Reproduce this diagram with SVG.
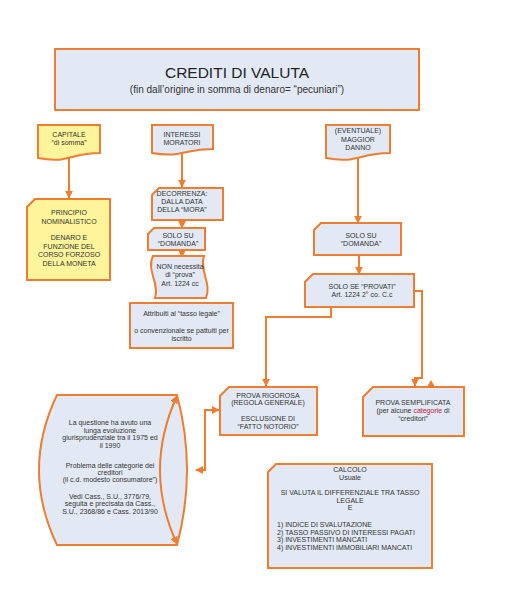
<svg xmlns="http://www.w3.org/2000/svg" width="529" height="600" viewBox="0 0 529 600">
<style>
.b{fill:#e2e9f4;stroke:#ed7d31;stroke-width:2}
.y{fill:#fdf49b;stroke:#ed7d31;stroke-width:2}
.c{fill:none;stroke:#ed7d31;stroke-width:2}
.t{font-family:"Liberation Sans",Arial,sans-serif;font-size:7px;fill:#333;text-anchor:middle}
.l{text-anchor:start}
</style>
<defs>
<marker id="ah" viewBox="0 0 10 10" refX="9" refY="5" markerWidth="8" markerHeight="8" markerUnits="userSpaceOnUse" orient="auto-start-reverse"><path d="M0,0 L10,5 L0,10 z" fill="#ed7d31"/></marker>
</defs>
<rect width="529" height="600" fill="#fff"/>
<g id="title">
<rect class="b" x="55" y="49" width="364" height="61"/>
<text class="t" x="237" y="78" style="font-size:15.5px;fill:#222">CREDITI DI VALUTA</text>
<text class="t" x="237" y="92.5" style="font-size:10px">(fin dall’origine in somma di denaro= “pecuniari”)</text>
</g>
<g id="connectors">
<path class="c" d="M69,157 V198" marker-end="url(#ah)"/>
<path class="c" d="M182,152 V187" marker-end="url(#ah)"/>
<path class="c" d="M182,220 V228" marker-end="url(#ah)"/>
<path class="c" d="M182,250 V257" marker-end="url(#ah)"/>
<path class="c" d="M358,157 V223" marker-end="url(#ah)"/>
<path class="c" d="M359,255 V274" marker-end="url(#ah)"/>
<path class="c" d="M331,307 V317 H266 V386" marker-end="url(#ah)"/>
<path class="c" d="M414,291 H422 V378 H415 V386" marker-end="url(#ah)"/>
<path class="c" d="M196,470 H205 V410 H219" marker-start="url(#ah)" marker-end="url(#ah)"/>
<polygon points="53,414 57,406 61,414" fill="#ed7d31"/>
<polygon points="427,387 431,380 435,387" fill="#ed7d31"/>
</g>
<g id="capitale">
<path class="y" d="M38,125 H100 V153 C69,153 69,164 38,158 Z"/>
<text class="t" x="69" y="136.5">CAPITALE</text>
<text class="t" x="69" y="144.5">“di somma”</text>
</g>
<g id="principio">
<path class="y" d="M35,199 H110 V280 H27 V207 Z"/>
<text class="t" x="69" y="215">PRINCIPIO</text>
<text class="t" x="69" y="223.5">NOMINALISTICO</text>
<text class="t" x="69" y="240">DENARO E</text>
<text class="t" x="69" y="248.5">FUNZIONE DEL</text>
<text class="t" x="69" y="257">CORSO FORZOSO</text>
<text class="t" x="69" y="265.5">DELLA MONETA</text>
</g>
<g id="interessi">
<path class="b" d="M152,125 H213 V149 C182.5,149 182.5,158 152,153 Z"/>
<text class="t" x="182" y="136.5">INTERESSI</text>
<text class="t" x="182" y="144.5">MORATORI</text>
</g>
<g id="decorrenza">
<path class="b" d="M159,188 H223 V220 H152 V195 Z"/>
<text class="t" x="182" y="195.5">DECORRENZA:</text>
<text class="t" x="182" y="203.5">DALLA DATA</text>
<text class="t" x="182" y="211.5">DELLA “MORA”</text>
</g>
<g id="domanda1">
<path class="b" d="M154,228 H205 V250 H148 V234 Z"/>
<text class="t" x="178" y="237.5">SOLO SU</text>
<text class="t" x="178" y="245.5">“DOMANDA”</text>
</g>
<g id="nonnecessita">
<path class="b" d="M153,256 H204 C199,270 212,284 206,298 H155 C160,284 146,270 153,256 Z"/>
<text class="t" x="180" y="268.5">NON necessita</text>
<text class="t" x="180" y="277">di “prova”</text>
<text class="t" x="180" y="285.5">Art. 1224 cc</text>
</g>
<g id="attribuiti">
<rect class="b" x="130" y="303" width="103" height="45"/>
<text class="t" x="181.5" y="316">Attribuiti al “tasso legale”</text>
<text class="t" x="181.5" y="332.5">o convenzionale se pattuiti per</text>
<text class="t" x="181.5" y="341">iscritto</text>
</g>
<g id="eventuale">
<path class="b" d="M326,125 H390 V153 C358,153 358,164 326,158 Z"/>
<text class="t" x="358" y="132.5">(EVENTUALE)</text>
<text class="t" x="358" y="141.5">MAGGIOR</text>
<text class="t" x="358" y="150">DANNO</text>
</g>
<g id="domanda2">
<path class="b" d="M321,223 H401 V255 H314 V230 Z"/>
<text class="t" x="361" y="237.5">SOLO SU</text>
<text class="t" x="361" y="246">“DOMANDA”</text>
</g>
<g id="provati">
<path class="b" d="M313,274 H414 V307 H305 V282 Z"/>
<text class="t" x="362" y="288.5">SOLO SE “PROVATI”</text>
<text class="t" x="362" y="296.5">Art. 1224 2° co. C.c</text>
</g>
<g id="rigorosa">
<path class="b" d="M229,387 H317 V435 H220 V396 Z"/>
<text class="t" x="268" y="397.5">PROVA RIGOROSA</text>
<text class="t" x="268" y="405">(REGOLA GENERALE)</text>
<text class="t" x="268" y="421">ESCLUSIONE DI</text>
<text class="t" x="268" y="429">“FATTO NOTORIO”</text>
</g>
<g id="semplificata">
<path class="b" d="M373,387 H464 V436 H363 V397 Z"/>
<text class="t" x="413" y="405">PROVA SEMPLIFICATA</text>
<text class="t" x="413" y="413">(per alcune <tspan fill="#c0143c">categorie</tspan> di</text>
<text class="t" x="413" y="421">“creditori”</text>
</g>
<g id="questione">
<path class="b" d="M57,395 H177 Q197,470 177,545 H57 Q21,470 57,395 Z"/>
<path class="c" d="M177,396 Q143,470 177,544" marker-start="url(#ah)" marker-end="url(#ah)"/>
<text class="t" x="110" y="425">La questione ha avuto una</text>
<text class="t" x="110" y="432.5">lunga evoluzione</text>
<text class="t" x="110" y="440">giurisprudenziale  tra il 1975 ed</text>
<text class="t" x="110" y="447.5">il 1990</text>
<text class="t" x="110" y="467.5">Problema delle  categorie dei</text>
<text class="t" x="110" y="474.5">creditori</text>
<text class="t" x="110" y="482">(il c.d. modesto consumatore”)</text>
<text class="t" x="110" y="498.5">Vedi Cass., S.U., 3776/79,</text>
<text class="t" x="110" y="506">seguita e precisata da Cass.,</text>
<text class="t" x="110" y="513.5">S.U., 2368/86 e Cass. 2013/90</text>
</g>
<g id="calcolo">
<path class="b" d="M276,464 H432 V568 H268 V472 Z"/>
<text class="t" x="350" y="472">CALCOLO</text>
<text class="t" x="350" y="479.5">Usuale</text>
<text class="t" x="350" y="495">SI VALUTA IL DIFFERENZIALE TRA TASSO</text>
<text class="t" x="350" y="502.5">LEGALE</text>
<text class="t" x="350" y="510">E</text>
<text class="t l" x="277" y="527">1)  INDICE DI SVALUTAZIONE</text>
<text class="t l" x="277" y="534.5">2) TASSO PASSIVO DI INTERESSI PAGATI</text>
<text class="t l" x="277" y="542">3) INVESTIMENTI MANCATI</text>
<text class="t l" x="277" y="549.5">4) INVESTIMENTI IMMOBILIARI MANCATI</text>
</g>
</svg>
